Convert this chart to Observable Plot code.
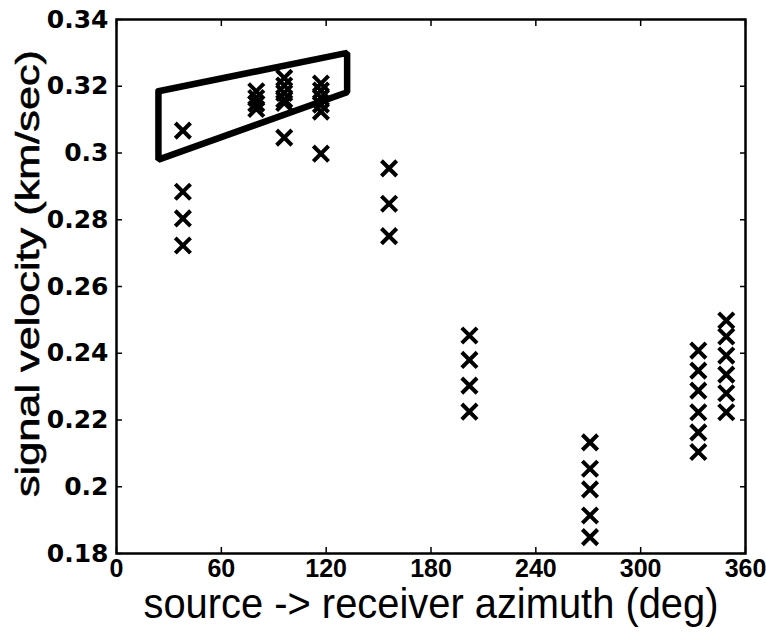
<!DOCTYPE html>
<html>
<head>
<meta charset="utf-8">
<script src="https://cdn.jsdelivr.net/npm/d3@7"></script>
<script src="https://cdn.jsdelivr.net/npm/@observablehq/plot@0.6"></script>
<style>
  html, body { margin: 0; padding: 0; background: #fff; }
  #chart { width: 766px; height: 632px; overflow: hidden; }
</style>
</head>
<body>
<div id="chart"></div>
<script>
// Data
const azimuth = [
  38, 38, 38, 38,
  80, 80, 80, 80,
  96, 96, 96, 96, 96, 96,
  117, 117, 117, 117, 117, 117,
  156, 156, 156,
  202, 202, 202, 202,
  271, 271, 271, 271, 271,
  333, 333, 333, 333, 333, 333,
  349, 349, 349, 349, 349, 349
];
const velocity = [
  0.3067, 0.2884, 0.2804, 0.2723,
  0.3185, 0.3165, 0.3148, 0.3132,
  0.3225, 0.3202, 0.3180, 0.3160, 0.3150, 0.3046,
  0.3208, 0.3187, 0.3166, 0.3145, 0.3124, 0.2998,
  0.2954, 0.2848, 0.2751,
  0.2453, 0.2380, 0.2303, 0.2225,
  0.2133, 0.2054, 0.1992, 0.1914, 0.1849,
  0.2408, 0.2348, 0.2288, 0.2223, 0.2163, 0.2104,
  0.2498, 0.2450, 0.2393, 0.2336, 0.2280, 0.2223
];
// Highlight box drawn on the chart (corners, closed)
const boxAzimuth = [24, 132, 132, 24, 24];
const boxVelocity = [0.3185, 0.3300, 0.3182, 0.2980, 0.3185];

const xTicks = [0, 60, 120, 180, 240, 300, 360];
const yTicks = [0.18, 0.2, 0.22, 0.24, 0.26, 0.28, 0.3, 0.32, 0.34];
const xLabel = "source -> receiver azimuth (deg)";
const yLabel = "signal velocity (km/sec)";

const points = azimuth.map((a, i) => ({az: a, v: velocity[i]}));
const box = boxAzimuth.map((a, i) => ({az: a, v: boxVelocity[i]}));

const chart = Plot.plot({
  width: 766,
  height: 632,
  marginLeft: 116,
  marginRight: 21,
  marginTop: 19,
  marginBottom: 79,
  style: {fontFamily: "'Liberation Sans', Arial, sans-serif", background: "#fff", color: "#000", overflow: "visible"},
  x: {domain: [0, 360], label: null},
  y: {domain: [0.18, 0.34], label: null},
  marks: [
    // inward ticks on all four sides (MATLAB style)
    Plot.axisX({anchor: "bottom", ticks: xTicks, tickSize: 6, insetBottom: 6, text: null, label: null, strokeWidth: 1.5}),
    Plot.axisX({anchor: "top", ticks: xTicks, tickSize: 6, insetTop: 6, text: null, label: null, strokeWidth: 1.5}),
    Plot.axisY({anchor: "left", ticks: yTicks, tickSize: 6, insetLeft: 6, text: null, label: null, strokeWidth: 1.5}),
    Plot.axisY({anchor: "right", ticks: yTicks, tickSize: 6, insetRight: 6, text: null, label: null, strokeWidth: 1.5}),
    // tick labels
    Plot.axisX({anchor: "bottom", ticks: xTicks, tickSize: 0, tickPadding: 6, label: null, tickFormat: d => String(d), fontSize: 25, fontWeight: "bold"}),
    Plot.axisY({anchor: "left", ticks: yTicks, tickSize: 0, tickPadding: 8, label: null, tickFormat: d => String(+d.toFixed(2)), fontSize: 25, fontWeight: "bold", fontFamily: "'DejaVu Sans', sans-serif"}),
    Plot.frame({stroke: "#000", strokeWidth: 2.5}),
    Plot.line(box, {x: "az", y: "v", stroke: "#000", strokeWidth: 6.5, strokeLinejoin: "miter"}),
    Plot.dot(points, {x: "az", y: "v", symbol: "times", r: 7, stroke: "#000", strokeWidth: 4}),
    // axis titles
    Plot.text([xLabel], {frameAnchor: "bottom", dy: 64, text: d => d, fontSize: 42, lineAnchor: "bottom", textAnchor: "middle", fill: "#000"}),
    Plot.text([yLabel], {frameAnchor: "left", dx: -88, dy: -13, rotate: -90, text: d => d, fontSize: 33, textAnchor: "middle", lineAnchor: "middle", fill: "#000", stroke: "#000", strokeWidth: 0.6})
  ]
});
// stretch/condense the axis titles to the reference's extents
d3.select(chart).selectAll("text")
  .filter(function() { return this.textContent === xLabel; })
  .attr("textLength", 575).attr("lengthAdjust", "spacingAndGlyphs");
d3.select(chart).selectAll("text")
  .filter(function() { return this.textContent === yLabel; })
  .attr("textLength", 447).attr("lengthAdjust", "spacingAndGlyphs");
document.getElementById("chart").appendChild(chart);
</script>
</body>
</html>
